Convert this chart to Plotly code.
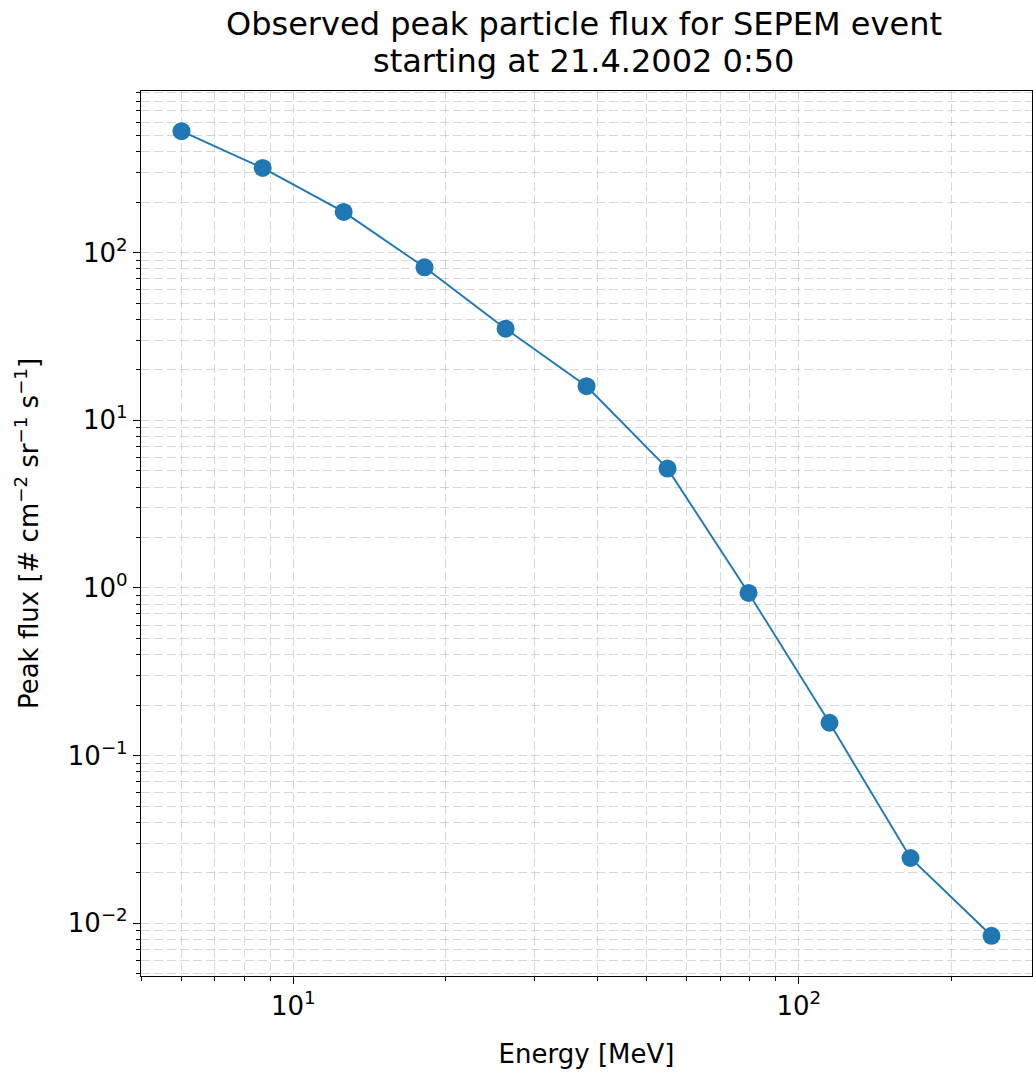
import numpy as np
import plotly.graph_objects as go

# Data
energy_mev = [6.01, 8.70, 12.58, 18.18, 26.30, 38.03, 54.99, 79.53, 115.0, 166.3, 240.5]
peak_flux = [530, 320, 175, 81.8, 35.2, 15.97, 5.15, 0.934, 0.157, 0.0245, 0.00842]

x_major = [10, 100]
x_major_text = ["10<sup>1</sup>", "10<sup>2</sup>"]
y_major = [1e-2, 1e-1, 1e0, 1e1, 1e2]
y_major_text = ["10<sup>−2</sup>", "10<sup>−1</sup>", "10<sup>0</sup>", "10<sup>1</sup>", "10<sup>2</sup>"]

title_lines = ["Observed peak particle flux for SEPEM event", "starting at 21.4.2002 0:50"]
x_title = "Energy [MeV]"
y_title = "Peak flux [# cm<sup>−2</sup> sr<sup>−1</sup> s<sup>−1</sup>]"

# matplotlib-like auto limits (5% margin in log space)
lx = np.log10(energy_mev)
ly = np.log10(peak_flux)
mx = 0.05 * (lx.max() - lx.min())
my = 0.05 * (ly.max() - ly.min())
xr = [lx.min() - mx, lx.max() + mx]
yr = [ly.min() - my, ly.max() + my]

def minors(lo, hi):
    vals = []
    for d in range(int(np.floor(lo)) - 1, int(np.ceil(hi)) + 1):
        for m in range(2, 10):
            v = m * 10.0 ** d
            if lo <= np.log10(v) <= hi:
                vals.append(v)
    return vals

grid_color = "rgba(176,176,176,0.5)"
grid_dash = "9px,4px"
font_family = "DejaVu Sans"
W, H = 1033, 1073
ML, MR, MT, MB = 141, 1, 91, 97
plot_h = H - MT - MB

fig = go.Figure()
fig.add_trace(go.Scatter(
    x=energy_mev, y=peak_flux, mode="lines+markers",
    line=dict(color="#1f77b4", width=1.9),
    marker=dict(color="#1f77b4", size=18),
    showlegend=False,
))

axis_common = dict(
    type="log", showline=True, linecolor="black", linewidth=1.2, mirror=True,
    ticks="outside", ticklen=7, tickwidth=1.2, tickcolor="black",
    showgrid=True, gridcolor=grid_color, gridwidth=1, griddash=grid_dash,
    zeroline=False, tickfont=dict(family=font_family, size=26, color="black"),
)
minor_common = dict(tickmode="array", ticks="outside", ticklen=4, tickwidth=1,
                    tickcolor="black", showgrid=True, gridcolor=grid_color,
                    griddash=grid_dash, gridwidth=1)

fig.update_xaxes(
    **axis_common, range=xr, tickmode="array", tickvals=x_major, ticktext=x_major_text,
    minor=dict(**minor_common, tickvals=minors(*xr)),
    title=dict(text=x_title, font=dict(family=font_family, size=26, color="black"), standoff=24),
)
fig.update_yaxes(
    **axis_common, range=yr, tickmode="array", tickvals=y_major, ticktext=y_major_text,
    minor=dict(**minor_common, tickvals=minors(*yr)),
    title=dict(text=y_title, font=dict(family=font_family, size=26, color="black"), standoff=21),
)

# two-line title as annotations (matplotlib-like line spacing)
for txt, ypix in zip(title_lines, [24, 61]):
    fig.add_annotation(
        text=txt, xref="paper", x=0.497, xanchor="center",
        yref="paper", y=(H - MB - ypix) / plot_h, yanchor="middle",
        showarrow=False, font=dict(family=font_family, size=32, color="black"),
    )

fig.update_layout(
    width=W, height=H,
    margin=dict(l=ML, r=MR, t=MT, b=MB),
    paper_bgcolor="white", plot_bgcolor="white",
)

fig.write_html("out.html")
